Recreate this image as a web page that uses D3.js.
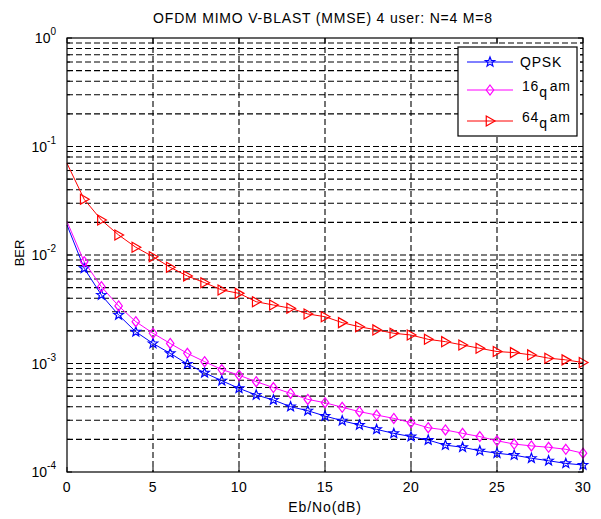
<!DOCTYPE html>
<html><head><meta charset="utf-8">
<script src="https://cdn.jsdelivr.net/npm/d3@7"></script>
<style>body{margin:0;background:#fff}svg{display:block}text{font-family:"Liberation Sans",Arial,sans-serif}</style>
</head><body>
<svg id="c" width="601" height="519"></svg>
<script>
const ebno = d3.range(0, 31);
const qpsk = [0.0189,0.00754,0.00428,0.0028,0.00196,0.00153,0.00124,0.00099,0.00082,0.000694,0.00059,0.000513,0.000461,0.0004,0.000367,0.000328,0.000297,0.000271,0.000247,0.000227,0.000212,0.000197,0.000177,0.000169,0.000157,0.000149,0.000143,0.000134,0.000127,0.00012,0.000116];
const qam16 = [0.0203,0.00867,0.0051,0.00339,0.00243,0.0019,0.00153,0.00124,0.00104,0.00088,0.00078,0.00068,0.0006,0.00053,0.000467,0.000435,0.000395,0.00036,0.000335,0.000312,0.000285,0.000256,0.000244,0.000227,0.000212,0.000194,0.000181,0.000174,0.000169,0.000162,0.000149];
const qam64 = [0.070,0.0326,0.021,0.0153,0.01178,0.00964,0.0077,0.0064,0.00556,0.00476,0.00443,0.00371,0.00346,0.00323,0.00286,0.0027,0.00238,0.00218,0.00204,0.0019,0.00183,0.00167,0.00159,0.00148,0.00138,0.00129,0.00126,0.0012,0.00112,0.00108,0.00102];
const xTicks = [0,5,10,15,20,25,30];
const yDecades = [0,-1,-2,-3,-4];
const seriesNames = ["QPSK","16qam","64qam"];

const svg = d3.select("#c");
const L=67, R=583, T=38, B=472;
const x = d3.scaleLinear().domain([0,30]).range([L,R]);
const y = d3.scaleLog().domain([1e-4,1]).range([B,T]);

const minor = [];
for (let e=-4;e<0;e++) for (let m=2;m<=9;m++) minor.push(m*Math.pow(10,e));
const allY = minor.concat(yDecades.map(e=>Math.pow(10,e)));

const g = svg.append("g");
const dash = "6,3";
g.selectAll(".gx").data(xTicks.slice(1,-1)).enter().append("line")
  .attr("x1",d=>x(d)).attr("x2",d=>x(d)).attr("y1",T).attr("y2",B)
  .attr("stroke","#000").attr("stroke-dasharray",dash).attr("stroke-width",1.1);
g.selectAll(".gy").data(allY.filter(v=>v>1e-4 && v<1)).enter().append("line")
  .attr("y1",d=>y(d)).attr("y2",d=>y(d)).attr("x1",L).attr("x2",R)
  .attr("stroke","#000").attr("stroke-dasharray",dash).attr("stroke-width",1.1);

xTicks.forEach(v=>{
  g.append("line").attr("x1",x(v)).attr("x2",x(v)).attr("y1",B).attr("y2",B-5).attr("stroke","#000");
  g.append("line").attr("x1",x(v)).attr("x2",x(v)).attr("y1",T).attr("y2",T+5).attr("stroke","#000");
});
allY.forEach(v=>{
  const isMaj = Math.abs(Math.log10(v)-Math.round(Math.log10(v)))<1e-9;
  const len = isMaj?5:3;
  g.append("line").attr("x1",L).attr("x2",L+len).attr("y1",y(v)).attr("y2",y(v)).attr("stroke","#000");
  g.append("line").attr("x1",R).attr("x2",R-len).attr("y1",y(v)).attr("y2",y(v)).attr("stroke","#000");
});

const line = d3.line().x((d,i)=>x(ebno[i])).y(d=>y(d));
const colors = ["#0000ff","#ff00ff","#ff0000"];
const data = [qpsk,qam16,qam64];

function star(r){
  const pts=[];
  for(let i=0;i<10;i++){const a=-Math.PI/2+i*Math.PI/5;const rr=i%2?r*0.42:r;pts.push([rr*Math.cos(a),rr*Math.sin(a)]);}
  return "M"+pts.map(p=>p.join(",")).join("L")+"Z";
}
function diamond(r){return `M0,${-r}L${r*0.75},0L0,${r}L${-r*0.75},0Z`;}
function tri(r){return `M${r},0L${-r*0.75},${-r}L${-r*0.75},${r}Z`;}
const markers=[star(5),diamond(5),tri(5)];

data.forEach((s,k)=>{
  const sg = svg.append("g");
  sg.append("path").attr("d",line(s)).attr("fill","none").attr("stroke",colors[k]).attr("stroke-width",1);
  sg.selectAll("path.m").data(s.slice(1)).enter().append("path").attr("class","m")
    .attr("transform",(d,i)=>`translate(${x(ebno[i+1])},${y(d)})`)
    .attr("d",markers[k]).attr("fill","none").attr("stroke",colors[k]).attr("stroke-width",1.2);
});

svg.append("rect").attr("x",L).attr("y",T).attr("width",R-L).attr("height",B-T).attr("fill","none").attr("stroke","#000").attr("stroke-width",1.2);

xTicks.forEach(v=>{
  svg.append("text").attr("x",x(v)).attr("y",492).attr("text-anchor","middle").attr("font-size",14).attr("letter-spacing",0.5).text(v);
});
yDecades.forEach(e=>{
  const t = svg.append("text").attr("x",56).attr("y",y(Math.pow(10,e))+5).attr("text-anchor","end").attr("font-size",14);
  t.append("tspan").text("10");
  t.append("tspan").attr("dy",-8).attr("font-size",10).text(e);
});
svg.append("text").attr("x",323).attr("y",23).attr("text-anchor","middle").attr("font-size",14).attr("letter-spacing",0.8).text("OFDM MIMO V-BLAST (MMSE) 4 user: N=4 M=8");
svg.append("text").attr("x",325).attr("y",512).attr("text-anchor","middle").attr("font-size",14).attr("letter-spacing",0.9).text("Eb/No(dB)");
svg.append("text").attr("transform","translate(24,253) rotate(-90)").attr("text-anchor","middle").attr("font-size",13).text("BER");

const lg = svg.append("g");
lg.append("rect").attr("x",458).attr("y",47).attr("width",119).attr("height",89).attr("fill","#fff").attr("stroke","#000").attr("stroke-width",1.2);
const ly=[62,90,121];
const labs=[["QPSK"],["16","q","am"],["64","q","am"]];
data.forEach((s,k)=>{
  lg.append("line").attr("x1",467).attr("x2",513).attr("y1",ly[k]).attr("y2",ly[k]).attr("stroke",colors[k]);
  lg.append("path").attr("d",markers[k]).attr("transform",`translate(490,${ly[k]})`).attr("fill","none").attr("stroke",colors[k]).attr("stroke-width",1.2);
  const t = lg.append("text").attr("x",k==0?520:522).attr("y",ly[k]+(k==0?5:1)).attr("font-size",14).attr("letter-spacing",0.8);
  if(k==0){t.text(labs[k][0]);}
  else{
    t.append("tspan").text(labs[k][0]);
    t.append("tspan").attr("dy",6).text(labs[k][1]);
    t.append("tspan").attr("dy",-6).attr("dx",2).text(labs[k][2]);
  }
});
</script>
</body></html>
